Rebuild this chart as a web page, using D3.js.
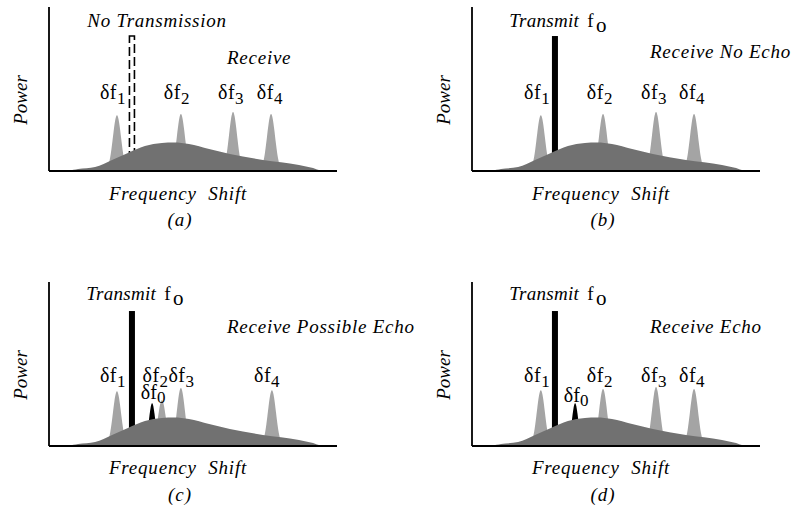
<!DOCTYPE html>
<html><head><meta charset="utf-8">
<script src="https://cdn.jsdelivr.net/npm/d3@7"></script>
<style>
html,body{margin:0;padding:0;background:#fff;}
svg{display:block;}
</style></head>
<body>
<svg id="chart" width="791" height="512"></svg>
<script>
// ---------- data (arbitrary units: frequency shift 0-100, power 0-100) ----------
const panelIds = ["a", "b", "c", "d"];
const panelCaptions = ["(a)", "(b)", "(c)", "(d)"];
const receiveTitles = ["Receive", "Receive No Echo", "Receive Possible Echo", "Receive Echo"];
const hasTransmit = [false, true, true, true];
const hasEcho = [false, false, true, true];

// broad clutter hump (same in each panel)
const humpFreq = [0, 6.9, 10.1, 16, 21.9, 27.4, 33.3, 39.2, 43.4, 48.6, 55.6, 62.8, 74.3, 86.8, 91.7, 94.4, 100];
const humpPower = [0, 0.3, 1.2, 2.4, 6.7, 11, 15.2, 17.1, 17.4, 16.5, 13.4, 10.4, 6.7, 3.7, 1.8, 0.3, 0];

// narrow Doppler-shift lines δf1..δf4
const lineNames = ["1", "2", "3", "4"];
const lineFreqA = [23.6, 45.8, 63.9, 77.1];
const lineFreqB = [23.9, 45.5, 63.9, 77.1];
const lineFreqC = [23.6, 39.2, 45.8, 77.4];
const lineFreqD = [23.9, 45.5, 63.9, 77.1];
const linePowerA = [34.1, 34.8, 36.0, 34.8];
const linePowerB = [34.1, 34.8, 36.0, 34.8];
const linePowerC = [33.5, 28.0, 35.4, 34.1];
const linePowerD = [34.1, 34.8, 36.0, 34.8];
const lineFreqs = [lineFreqA, lineFreqB, lineFreqC, lineFreqD];
const linePowers = [linePowerA, linePowerB, linePowerC, linePowerD];
// label centres for δf labels
const labelFreqA = [22.2, 44.4, 63.2, 76.7];
const labelFreqB = [22.6, 44.4, 63.2, 76.4];
const labelFreqC = [22.2, 37.0, 46.0, 75.7];
const labelFreqD = [22.6, 44.4, 63.2, 76.4];
const labelFreqs = [labelFreqA, labelFreqB, labelFreqC, labelFreqD];

// transmit line f0 and echo δf0
const transmitFreq = 28.8;
const transmitPower = 82.3;
const echoFreq = [null, null, 35.8, 35.8];
const echoPower = 26.2;

// ---------- layout ----------
const origins = [[49, 171], [472, 171], [49, 446], [472, 446]];
const axisW = 288, axisH = 164;
const lightGray = "#a4a4a4", darkGray = "#717171";
const serif = '"Liberation Serif"';

const svg = d3.select("#chart");

function peakPoints(c, h, sigma) {
  const pts = [];
  for (let f = c - 4 * sigma; f <= c + 4 * sigma + 1e-9; f += sigma / 8) {
    pts.push([f, h * Math.exp(-((f - c) ** 2) / (2 * sigma * sigma))]);
  }
  return pts;
}

function txt(g, size, italic) {
  return g.append("text").style("font-family", serif).style("font-size", size + "px")
    .style("font-style", italic ? "italic" : "normal").attr("fill", "#000");
}

panelIds.forEach((id, i) => {
  const [ox, oy] = origins[i];
  const x = d3.scaleLinear().domain([0, 100]).range([ox, ox + axisW]);
  const y = d3.scaleLinear().domain([0, 100]).range([oy, oy - axisH]);
  const g = svg.append("g").attr("class", "panel-" + id);
  const top = i < 2;

  const area = d3.area().x(d => x(d[0])).y0(y(0)).y1(d => y(d[1])).curve(d3.curveBasis);

  // narrow lines (behind hump)
  lineFreqs[i].forEach((f, k) => {
    g.append("path").attr("d", area(peakPoints(f, linePowers[i][k], 1.4))).attr("fill", lightGray);
  });

  // transmit bar / dashed placeholder
  if (hasTransmit[i]) {
    g.append("rect")
      .attr("x", x(transmitFreq) - 3).attr("width", 6)
      .attr("y", y(transmitPower)).attr("height", y(0) - y(transmitPower))
      .attr("fill", "#000");
  } else {
    g.append("rect")
      .attr("x", x(transmitFreq) - 2.5).attr("width", 5)
      .attr("y", y(transmitPower)).attr("height", y(0) - y(transmitPower))
      .attr("fill", "none").attr("stroke", "#000").attr("stroke-width", 1.6)
      .attr("stroke-dasharray", "9,4");
  }

  // echo
  if (hasEcho[i]) {
    g.append("path").attr("d", area(peakPoints(echoFreq[i], echoPower, 1.1))).attr("fill", "#000");
  }

  // hump
  const humpData = humpFreq.map((f, k) => [f, humpPower[k]]);
  g.append("path")
    .attr("d", d3.area().x(d => x(d[0])).y0(y(0)).y1(d => y(d[1])).curve(d3.curveMonotoneX)(humpData))
    .attr("fill", darkGray);

  // axes
  g.append("line").attr("x1", x(0)).attr("x2", x(0)).attr("y1", y(100)).attr("y2", y(0))
    .attr("stroke", "#000").attr("stroke-width", 1.8);
  g.append("line").attr("x1", x(0)).attr("x2", x(100)).attr("y1", y(0)).attr("y2", y(0))
    .attr("stroke", "#000").attr("stroke-width", 1.8);

  // δf labels
  const lblY = top ? oy - 72 : oy - 64;
  labelFreqs[i].forEach((f, k) => {
    const t = txt(g, 20, false).attr("x", x(f)).attr("y", lblY).attr("text-anchor", "middle")
      .style("letter-spacing", "0.5px");
    t.append("tspan").text("δf");
    t.append("tspan").attr("dy", 5).style("font-size", "17px").text(lineNames[k]);
  });
  if (hasEcho[i]) {
    const t = txt(g, 20, false).attr("x", x(echoFreq[i]) + 1).attr("y", i === 2 ? oy - 47 : oy - 44)
      .attr("text-anchor", "middle");
    t.append("tspan").text("δf");
    t.append("tspan").attr("dy", 4).style("font-size", "17px").text("0");
  }

  // top titles
  if (hasTransmit[i]) {
    const t = txt(g, 19, true).attr("x", x(transmitFreq) + 3).attr("y", top ? oy - 144 : oy - 146)
      .attr("text-anchor", "middle").style("letter-spacing", "0.3px");
    t.append("tspan").text("Transmit");
    t.append("tspan").style("font-style", "normal").attr("dx", 3).text(" f");
    t.append("tspan").style("font-style", "normal").attr("dx", 2).attr("dy", 5).style("font-size", "21px").text("o");
  } else {
    txt(g, 19, true).attr("x", ox + 108).attr("y", oy - 144).attr("text-anchor", "middle")
      .style("letter-spacing", "0.75px").text("No Transmission");
  }
  txt(g, 19, true).attr("x", ox + 178).attr("y", i === 0 ? oy - 107 : oy - 113)
    .style("letter-spacing", "0.75px").text(receiveTitles[i]);

  // axis titles
  txt(g, 19, true).attr("transform", `translate(${ox - 22},${oy - 71}) rotate(-90)`)
    .attr("text-anchor", "middle").text("Power");
  txt(g, 19, true).attr("x", ox + 129).attr("y", top ? oy + 29 : oy + 28).attr("text-anchor", "middle")
    .style("letter-spacing", "0.8px").style("word-spacing", "6px").text("Frequency Shift");
  txt(g, 19, true).attr("x", ox + 131).attr("y", oy + 55).attr("text-anchor", "middle")
    .style("letter-spacing", "1px").text(panelCaptions[i]);
});
</script>
</body></html>
